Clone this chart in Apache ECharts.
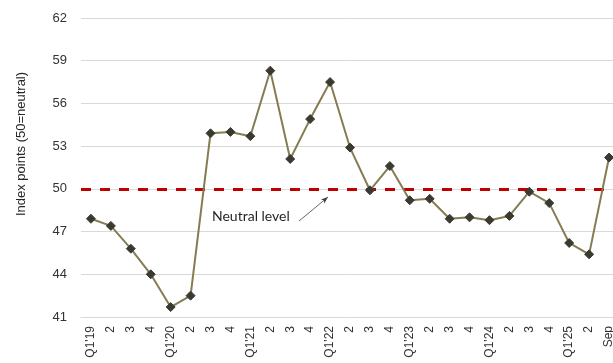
<!DOCTYPE html>
<html>
<head>
<meta charset="utf-8">
<script src="https://cdn.jsdelivr.net/npm/echarts@6/dist/echarts.min.js"></script>
<style>
  html, body { margin: 0; padding: 0; background: #fff; }
  #chart { width: 613px; height: 363px; }
</style>
</head>
<body>
<div id="chart"></div>
<script>
// Quarterly index readings, Q1'19 through September
const categories = [
  "Q1'19", "2", "3", "4",
  "Q1'20", "2", "3", "4",
  "Q1'21", "2", "3", "4",
  "Q1'22", "2", "3", "4",
  "Q1'23", "2", "3", "4",
  "Q1'24", "2", "3", "4",
  "Q1'25", "2", "Sep"
];
const indexValues = [
  47.9, 47.4, 45.8, 44.0,
  41.7, 42.5, 53.9, 54.0,
  53.7, 58.3, 52.1, 54.9,
  57.5, 52.9, 49.9, 51.6,
  49.2, 49.3, 47.9, 48.0,
  47.8, 48.1, 49.8, 49.0,
  46.2, 45.4, 52.2
];
const neutralLevel = 50;
const yTicks = { min: 41, max: 62, step: 3 };

const chart = echarts.init(document.getElementById('chart'), null, { renderer: 'canvas' });

const textFont = 'Liberation Sans, Arial, sans-serif';

chart.setOption({
  animation: false,
  // plot area runs slightly past the right edge of the canvas
  grid: {
    left: 81, width: 538, top: 18, bottom: 46,
    containLabel: false,
    outerBoundsMode: 'none'
  },
  xAxis: {
    type: 'category',
    data: categories,
    boundaryGap: true,
    axisLine: { show: true, lineStyle: { color: '#d9d9d9', width: 1 } },
    axisTick: { show: false },
    axisLabel: {
      rotate: 90,
      interval: 0,
      margin: 9,
      color: '#333',
      fontSize: 12,
      fontFamily: textFont
    },
    splitLine: { show: false }
  },
  yAxis: {
    type: 'value',
    min: yTicks.min,
    max: yTicks.max,
    interval: yTicks.step,
    axisLine: { show: false },
    axisTick: { show: false },
    axisLabel: {
      margin: 14,
      color: '#333',
      fontSize: 13,
      fontFamily: textFont
    },
    splitLine: { lineStyle: { color: '#d9d9d9', width: 1 } }
  },
  graphic: [
    {
      type: 'text',
      x: 21,
      y: 144,
      rotation: Math.PI / 2,
      style: {
        text: 'Index points (50=neutral)',
        fill: '#262626',
        font: '13px ' + textFont,
        align: 'center',
        verticalAlign: 'middle'
      }
    },
    {
      type: 'text',
      x: 212,
      y: 216,
      style: {
        text: 'Neutral level',
        fill: '#262626',
        font: '14px Lato, Inter, sans-serif',
        align: 'left',
        verticalAlign: 'middle'
      }
    }
  ],
  series: [
    {
      type: 'line',
      data: indexValues,
      symbol: 'diamond',
      symbolSize: 9,
      showAllSymbol: true,
      lineStyle: { color: '#857c52', width: 2 },
      itemStyle: { color: '#3b3a32', borderColor: '#3b3a32' },
      z: 3,
      markLine: {
        silent: true,
        symbol: ['none', 'none'],
        label: { show: false },
        lineStyle: { color: '#c00000', width: 3, type: [10, 9] },
        data: [{ yAxis: neutralLevel }],
        z: 2
      }
    },
    {
      // pointer from the caption towards the neutral line
      type: 'line',
      data: [],
      markLine: {
        silent: true,
        symbol: ['none', 'arrow'],
        symbolSize: [4, 7],
        label: { show: false },
        lineStyle: { color: '#404040', width: 0.8, type: 'solid' },
        data: [[{ x: 299, y: 221 }, { x: 328, y: 197 }]]
      }
    }
  ]
});
</script>
</body>
</html>
